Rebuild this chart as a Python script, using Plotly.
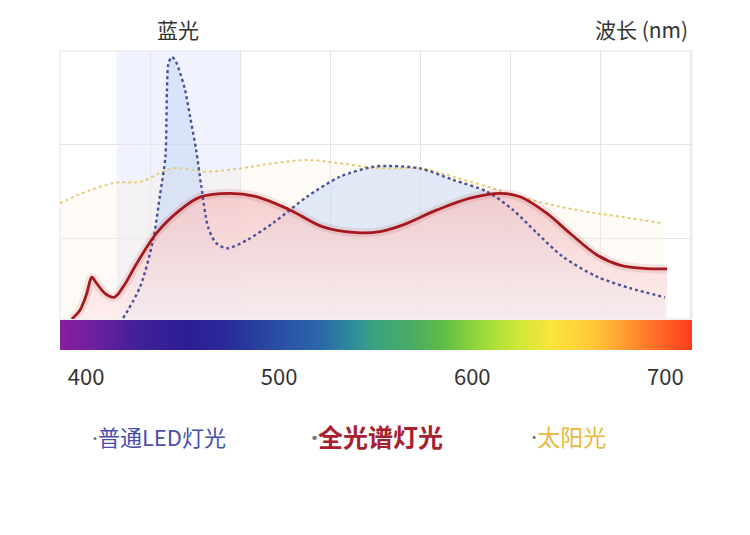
import plotly.graph_objects as go

# 波长轴 (nm)
x_range = [386.5, 713.8]
tick_nm = [400, 500, 600, 700]
blue_band_nm = [415.8, 479.8]

# 全光谱灯光
full_nm = [392.6, 396.9, 400.4, 402.1, 403.0, 405.5, 409.8, 414.5, 419.3, 426.3,
           436.6, 448.7, 459.0, 474.6, 488.6, 505.6, 522.7, 540.3, 552.3, 564.2,
           581.8, 598.9, 614.4, 624.8, 638.7, 650.6, 664.6, 676.5, 688.5, 700.9]
full_val = [0.0, 3.4, 9.6, 14.4, 15.6, 13.3, 9.6, 8.1, 12.1, 20.8,
            32.1, 40.7, 45.5, 46.9, 45.6, 40.7, 34.4, 32.2, 32.6, 35.1,
            40.7, 45.1, 46.9, 45.6, 39.4, 32.0, 23.9, 20.1, 18.9, 18.7]

# 普通LED灯光
led_nm = [419.2, 428.0, 434.7, 438.3, 441.1, 441.6, 441.9, 442.7, 444.5, 446.6,
          448.7, 451.3, 453.9, 457.0, 459.6, 463.2, 467.3, 473.0, 483.4, 496.8,
          514.4, 531.5, 548.6, 555.9, 573.0, 590.1, 607.7, 621.1, 633.6, 647.0,
          664.6, 681.7, 699.8]
led_val = [0.3, 12.0, 29.5, 46.3, 60.6, 73.1, 85.4, 95.5, 97.8, 95.9,
           91.8, 85.4, 75.4, 63.1, 50.0, 34.3, 28.4, 26.4, 29.5, 35.8,
           45.6, 53.1, 56.8, 57.1, 56.2, 51.9, 47.5, 40.7, 32.0, 23.2,
           15.8, 11.5, 8.1]

# 太阳光
sun_nm = [386.5, 402.1, 416.1, 428.0, 445.1, 462.7, 479.8, 496.8, 514.4, 531.5,
          552.3, 573.0, 590.1, 607.7, 624.8, 641.8, 659.5, 676.5, 698.8]
sun_val = [43.2, 48.1, 50.9, 51.2, 56.2, 55.0, 56.2, 58.1, 59.3, 58.1,
           56.2, 56.2, 53.1, 49.4, 45.6, 42.5, 40.0, 38.2, 35.7]

# 底部光谱色带
spectrum_nm = [386, 405, 427, 453, 470, 488, 505, 522, 539, 550,
               567, 584, 607, 624, 641, 662, 679, 696, 714]
spectrum_colors = ["#8a1f9c", "#6a20a0", "#402098", "#2c1e94", "#2a2898",
                   "#28409e", "#2a55a8", "#2a6aa8", "#2f8e98", "#3aa57e",
                   "#4aaa66", "#5cbc48", "#a0dc38", "#d0e838", "#fce43a",
                   "#ffc838", "#ff9a30", "#ff6a28", "#ff3a1c"]

legend_labels = ["普通LED灯光", "全光谱灯光", "太阳光"]

FONT = "Noto Sans CJK SC, Noto Sans, sans-serif"
GRID = "#e4e4ea"

lo, hi = spectrum_nm[0], spectrum_nm[-1]
spectrum_scale = [[(v - lo) / (hi - lo), c] for v, c in zip(spectrum_nm, spectrum_colors)]

fig = go.Figure()

fig.add_trace(go.Heatmap(
    x=spectrum_nm, y=[0, 1], z=[spectrum_nm, spectrum_nm],
    zmin=lo, zmax=hi, colorscale=spectrum_scale, zsmooth="best",
    showscale=False, hoverinfo="skip", xaxis="x", yaxis="y2",
))

# 先画填充
fig.add_trace(go.Scatter(
    x=sun_nm, y=sun_val, mode="lines", line_shape="spline", line_width=0,
    fill="tozeroy", fillcolor="rgba(253,240,225,0.35)",
))
fig.add_trace(go.Scatter(
    x=led_nm, y=led_val, mode="lines", line=dict(shape="spline", smoothing=0.8, width=0),
    fill="tozeroy", fillcolor="rgba(180,208,245,0.4)",
))
fig.add_trace(go.Scatter(
    x=full_nm, y=full_val, mode="lines", line_shape="spline", line_width=0,
    fill="tozeroy",
    fillgradient=dict(type="vertical", colorscale=[
        [0, "rgba(253,236,236,0.8)"], [1, "rgba(243,196,196,0.8)"]]),
))

# 再画线
fig.add_trace(go.Scatter(
    x=sun_nm, y=sun_val, mode="lines", line_shape="spline",
    line=dict(color="#e3cd78", width=2, dash="dot"),
))
fig.add_trace(go.Scatter(
    x=led_nm, y=led_val, mode="lines",
    line=dict(color="#4d5196", width=2.4, dash="dot", shape="spline", smoothing=0.8),
))
# 红线的柔和阴影
fig.add_trace(go.Scatter(
    x=full_nm, y=full_val, mode="lines", line_shape="spline",
    line=dict(color="rgba(165,25,30,0.10)", width=9),
))
fig.add_trace(go.Scatter(
    x=full_nm, y=full_val, mode="lines", line_shape="spline",
    line=dict(color="#a5191e", width=2.8),
))

fig.update_layout(
    width=750, height=535,
    margin=dict(l=60, r=58, t=51, b=185),
    paper_bgcolor="white", plot_bgcolor="white",
    showlegend=False,
    font=dict(family=FONT, color="#333333"),
    xaxis=dict(
        range=x_range, anchor="y2",
        tickmode="array", tickvals=tick_nm,
        ticks="outside", ticklen=8, tickcolor="rgba(0,0,0,0)",
        tickfont=dict(size=22, color="#333333"),
        showgrid=False, zeroline=False, showline=False,
        minor=dict(tick0=x_range[0], dtick=46.61, showgrid=True,
                   gridcolor=GRID, gridwidth=1),
    ),
    yaxis=dict(
        domain=[0.1037, 1], range=[0, 100],
        tickmode="array", tickvals=[30.2, 65.2],
        showticklabels=False, gridcolor=GRID, zeroline=False,
    ),
    yaxis2=dict(domain=[0, 0.1003], range=[-0.5, 1.5], visible=False),
)

# 蓝光区域
fig.add_shape(type="rect", xref="x", yref="y",
              x0=blue_band_nm[0], x1=blue_band_nm[1], y0=0, y1=100,
              fillcolor="rgba(226,230,252,0.5)", line_width=0, layer="below")
fig.add_shape(type="rect", xref="x domain", yref="y domain",
              x0=0, x1=1, y0=0, y1=1, line=dict(color=GRID, width=1),
              layer="below")

fig.add_annotation(text="蓝光", x=sum(blue_band_nm) / 2, xref="x",
                   y=1.0736, yref="paper", yanchor="middle", showarrow=False,
                   font=dict(size=21, color="#333333"))
fig.add_annotation(text="波长 (nm)", x=0.997, xref="paper", xanchor="right",
                   y=1.0736, yref="paper", yanchor="middle", showarrow=False,
                   font=dict(size=21, color="#333333"))

legend_x = [0.047, 0.394, 0.742]
legend_colors = ["#4a4db0", "#a8202e", "#e8b93a"]
legend_sizes = [22, 25, 23]
legend_weights = [400, 700, 400]
for i, label in enumerate(legend_labels):
    txt = f"<span style='color:#777;font-family:Noto Sans'>·</span>{label}"
    fig.add_annotation(text=txt, x=legend_x[i], xref="paper", xanchor="left",
                       y=-0.2876, yref="paper", yanchor="middle", showarrow=False,
                       font=dict(size=legend_sizes[i], color=legend_colors[i],
                                 weight=legend_weights[i]))

fig.write_html("out.html", config={"displayModeBar": False},
               post_script="document.body.style.margin='0';")
